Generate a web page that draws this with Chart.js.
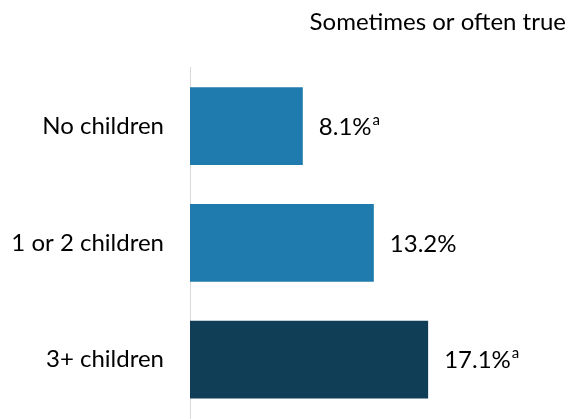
<!DOCTYPE html>
<html>
<head>
<meta charset="utf-8">
<script src="https://cdn.jsdelivr.net/npm/chart.js@4/dist/chart.umd.min.js"></script>
<style>
  html, body { margin: 0; padding: 0; background: #fff; }
  canvas { display: block; }
</style>
</head>
<body>
<canvas id="chart" width="569" height="420"></canvas>
<script>
// データ
const categories = ['No children', '1 or 2 children', '3+ children'];
const values = [8.1, 13.2, 17.1];
const valueNotes = ['a', '', 'a'];
const barColors = ['#1f7aad', '#1f7aad', '#113e57'];
const titleText = 'Sometimes or often true';

const FONT = "Lato, 'Open Sans', sans-serif";

// 値ラベル（上付き文字つき）
const valueLabels = {
  id: 'valueLabels',
  afterDatasetsDraw(chart) {
    const ctx = chart.ctx;
    const meta = chart.getDatasetMeta(0);
    ctx.save();
    ctx.fillStyle = '#000';
    ctx.textBaseline = 'middle';
    ctx.textAlign = 'left';
    meta.data.forEach((bar, i) => {
      const txt = values[i].toFixed(1) + '%';
      const x = bar.x + 16;
      const y = bar.y + 1;
      ctx.font = '24px ' + FONT;
      ctx.fillText(txt, x, y);
      if (valueNotes[i]) {
        const w = ctx.measureText(txt).width;
        ctx.font = '15px ' + FONT;
        ctx.fillText(valueNotes[i], x + w + 1, y - 7);
      }
    });
    ctx.restore();
  }
};

new Chart(document.getElementById('chart'), {
  type: 'bar',
  data: {
    labels: categories,
    datasets: [{
      data: values,
      backgroundColor: barColors,
      borderWidth: 0,
      barPercentage: 1,
      categoryPercentage: 0.665
    }]
  },
  options: {
    indexAxis: 'y',
    responsive: false,
    animation: false,
    layout: { padding: { left: 0, right: 3, top: 0, bottom: 2 } },
    plugins: {
      legend: { display: false },
      tooltip: { enabled: false },
      title: {
        display: true,
        text: titleText,
        align: 'end',
        color: '#000',
        font: { family: FONT, size: 24, weight: 'normal' },
        padding: { top: 8, bottom: 31 }
      }
    },
    scales: {
      x: {
        display: false,
        min: 0,
        max: 27
      },
      y: {
        afterFit(axis) {
          // 軸幅を固定し、ラベル由来の上下余白を消す
          axis.width = 190;
          axis.paddingTop = 0;
          axis.paddingBottom = 0;
        },
        grid: { display: false, drawTicks: false },
        border: { display: true, color: '#d9d9d9', width: 1 },
        ticks: {
          color: '#000',
          padding: 26,
          font: { family: FONT, size: 24 }
        }
      }
    }
  },
  plugins: [valueLabels]
});
</script>
</body>
</html>
